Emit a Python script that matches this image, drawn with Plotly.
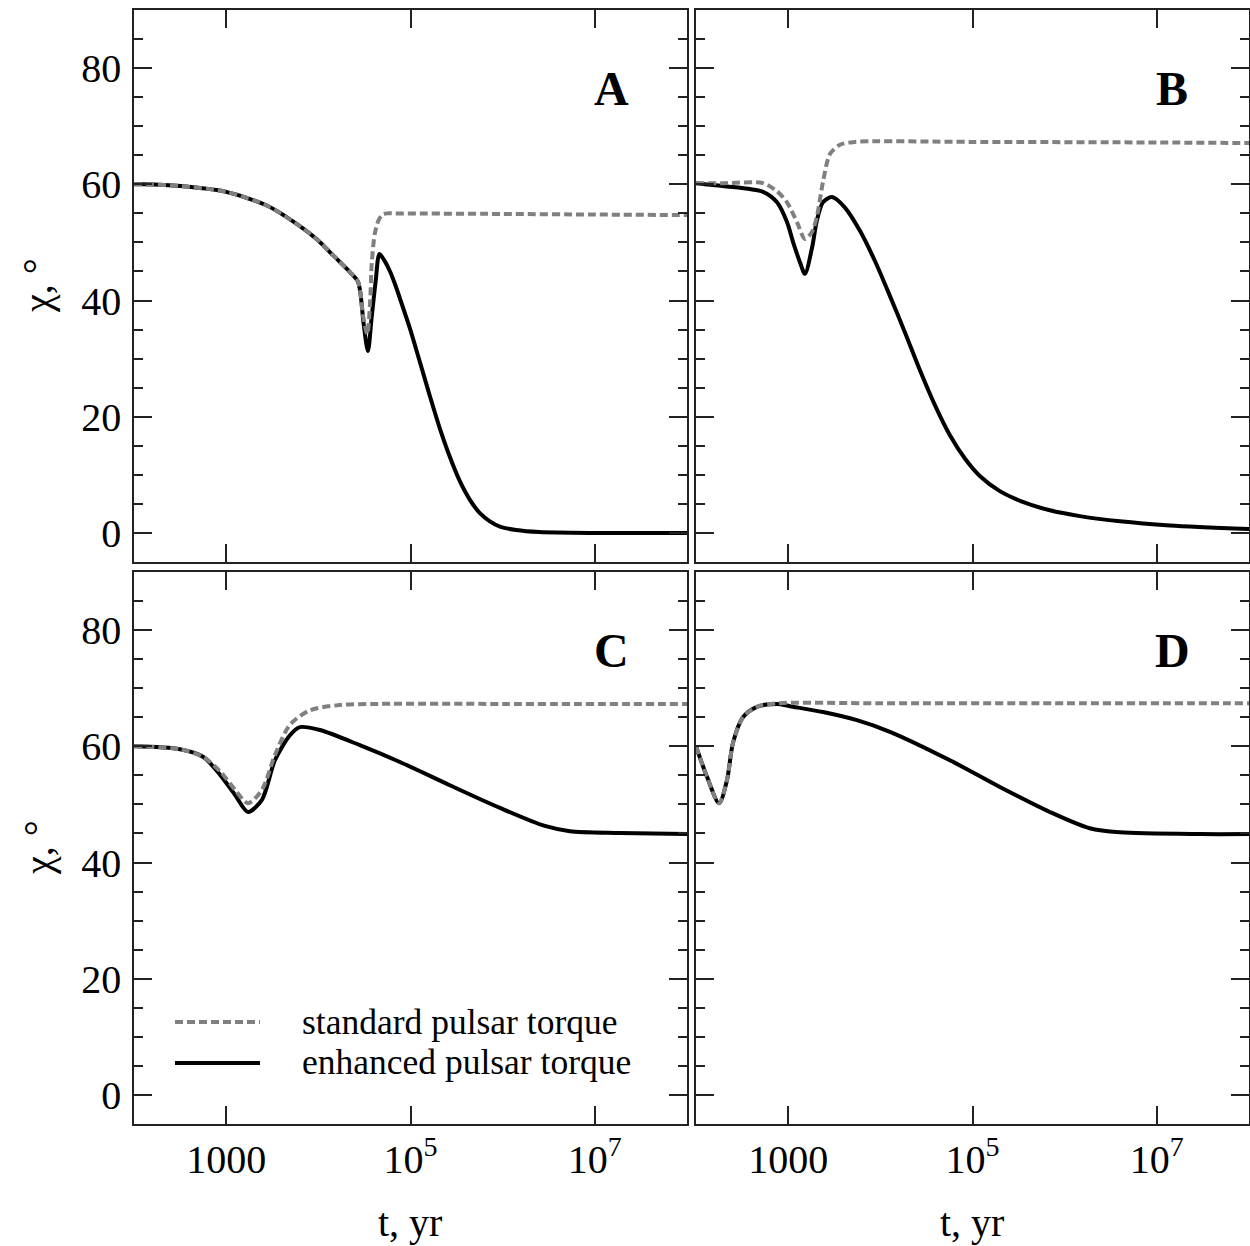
import plotly.graph_objects as go
from plotly.subplots import make_subplots

# ---------------- data (t in years, chi in degrees) ----------------
# Panel A
tA_std = [100, 125, 320, 1000, 2800, 6300, 9700, 14400, 22000, 27000, 30500, 34000,
          36500, 38000, 41000, 45000, 50000, 56000, 62000, 1e6, 1e7, 1e8]
chiA_std = [60.0, 60.0, 59.7, 58.7, 56.3, 52.8, 50.5, 47.8, 44.9, 43.2, 37.5, 34.2,
            40.0, 46.5, 51.5, 53.8, 54.8, 55.0, 55.0, 54.9, 54.8, 54.7]
tA_enh = [100, 125, 320, 1000, 2800, 6300, 9700, 14400, 22000, 27000, 31000, 34500,
          38000, 42000, 46000, 52000, 60000, 68000, 77000, 98500, 126000, 162000, 208000,
          267000, 343000, 441000, 566000, 726000, 933000, 1.4e6, 2.5e6, 1e7, 1e8]
chiA_enh = [60.0, 60.0, 59.7, 58.7, 56.3, 52.8, 50.5, 47.8, 44.9, 43.2, 36.0, 31.3,
            37.3, 43.5, 48.0, 46.9, 45.0, 42.8, 40.3, 35.2, 29.5, 23.6, 18.0,
            13.1, 8.9, 5.7, 3.4, 2.0, 1.1, 0.5, 0.15, 0.0, 0.0]

# Panel B
tB_std = [100, 200, 530, 757, 971, 1246, 1521, 1811, 2052, 2385, 2840, 3645, 5300,
          1e5, 1e7, 1e8]
chiB_std = [60.2, 60.2, 60.2, 58.8, 56.9, 53.5, 50.6, 51.8, 54.5, 60.4, 65.2, 66.8, 67.3,
            67.3, 67.2, 67.1]
tB_enh = [100, 196, 533, 757, 971, 1128, 1342, 1521, 1811, 2052, 2385, 2985, 4130,
          6010, 8740, 12700, 18500, 26900, 39100, 56900, 82700, 120000, 198000, 370000,
          690000, 1.46e6, 3.97e6, 1.38e7, 1e8]
chiB_enh = [60.2, 59.7, 58.7, 56.9, 53.5, 50.1, 46.6, 44.6, 49.0, 53.8, 56.9, 57.8, 56.0,
            52.0, 46.8, 40.8, 34.5, 28.0, 22.0, 16.8, 12.8, 9.8, 7.2, 5.2,
            3.9, 2.9, 2.0, 1.3, 0.7]

# Panel C
tC_std = [100, 315, 560, 870, 1250, 1722, 2443, 3380, 4918, 8110, 17100, 46500, 1e6, 1e8]
chiC_std = [60.0, 59.5, 58.2, 55.6, 52.5, 50.2, 52.5, 58.5, 63.7, 66.2, 67.1, 67.3, 67.3, 67.3]
tC_enh = [100, 315, 560, 870, 1250, 1722, 2443, 3380, 4918, 6310, 10400, 28200, 76800,
          267000, 933000, 2.87e6, 5.36e6, 1.87e7, 1e8]
chiC_enh = [60.0, 59.5, 58.2, 55.0, 51.6, 48.7, 50.8, 57.6, 61.9, 63.3, 62.8, 60.2, 57.3,
            53.3, 49.4, 46.3, 45.4, 45.1, 44.9]

# Panel D
tD_std = [100, 132, 178, 217, 252, 323, 459, 757, 1e4, 1e6, 1e8]
chiD_std = [60.0, 54.7, 50.2, 54.2, 60.6, 65.0, 66.8, 67.4, 67.4, 67.4, 67.4]
tD_enh = [100, 132, 178, 217, 252, 323, 459, 757, 1047, 2385, 5570, 12700, 56900,
          198000, 690000, 1.87e6, 3.97e6, 2.92e7, 1e8]
chiD_enh = [60.0, 54.7, 50.2, 54.2, 60.6, 65.0, 66.8, 67.3, 66.9, 65.9, 64.5, 62.5, 57.6,
            53.0, 48.7, 45.9, 45.2, 44.9, 44.9]

panel_labels = ["A", "B", "C", "D"]
series_names = ["standard pulsar torque", "enhanced pulsar torque"]
y_tickvals = [0, 20, 40, 60, 80]
x_tickvals = [1e3, 1e5, 1e7]
x_ticktext = ["1000", "10<sup>5</sup>", "10<sup>7</sup>"]
x_title = "t, yr"
y_title = "χ, °"

# ---------------- figure ----------------
FONT = "Liberation Serif"
GRAY = "#808080"
DASH = "8px,4px"
LW = 4

fig = make_subplots(rows=2, cols=2)

panels = [
    (1, 1, tA_std, chiA_std, tA_enh, chiA_enh),
    (1, 2, tB_std, chiB_std, tB_enh, chiB_enh),
    (2, 1, tC_std, chiC_std, tC_enh, chiC_enh),
    (2, 2, tD_std, chiD_std, tD_enh, chiD_enh),
]
for r, c, ts, cs, te, ce in panels:
    fig.add_trace(go.Scatter(x=te, y=ce, mode="lines", name=series_names[1],
                             line=dict(color="black", width=LW, shape="spline", smoothing=0.8),
                             showlegend=False), row=r, col=c)
    fig.add_trace(go.Scatter(x=ts, y=cs, mode="lines", name=series_names[0],
                             line=dict(color=GRAY, width=LW, dash=DASH, shape="spline", smoothing=0.8),
                             showlegend=False), row=r, col=c)

W, H = 1250, 1246
xdom_L = [134 / W, 687 / W]
xdom_R = [696 / W, 1249 / W]
ydom_T = [(H - 562) / H, (H - 10) / H]
ydom_B = [(H - 1124) / H, (H - 572) / H]

axis_common = dict(showline=True, linecolor="#222", linewidth=1.5, mirror="ticks",
                   ticks="inside", tickcolor="#222", tickwidth=1.5, showgrid=False,
                   zeroline=False, tickfont=dict(family=FONT, size=40, color="black"))

for i, (xd, yd) in enumerate([(xdom_L, ydom_T), (xdom_R, ydom_T), (xdom_L, ydom_B), (xdom_R, ydom_B)]):
    sfx = "" if i == 0 else str(i + 1)
    fig.layout["xaxis" + sfx].update(
        domain=xd, type="log", range=[2, 8], tickvals=x_tickvals, ticktext=x_ticktext,
        ticklen=18, showticklabels=(i >= 2), ticklabelstandoff=-1, **axis_common)
    fig.layout["yaxis" + sfx].update(
        domain=yd, range=[-5, 90], tickvals=y_tickvals, ticklen=18,
        minor=dict(dtick=5, tick0=0, ticks="inside", ticklen=9, tickcolor="#222", tickwidth=1.5),
        showticklabels=(i % 2 == 0), ticklabelstandoff=3, **axis_common)

annotations = []
# panel letters
for lab, (px, py) in zip(panel_labels, [(611, 88), (1172, 88), (611, 650), (1172, 650)]):
    annotations.append(dict(text="<b>%s</b>" % lab, x=px / W, y=1 - py / H, xref="paper", yref="paper",
                            showarrow=False, xanchor="center", yanchor="middle",
                            font=dict(family=FONT, size=48, color="black")))
# y titles
for py in (286, 848):
    annotations.append(dict(text=y_title, x=38 / W, y=1 - py / H, xref="paper", yref="paper",
                            showarrow=False, textangle=-90, xanchor="center", yanchor="middle",
                            font=dict(family=FONT, size=40, color="black")))
# x titles
for px in (410, 972):
    annotations.append(dict(text=x_title, x=px / W, y=1 - 1222 / H, xref="paper", yref="paper",
                            showarrow=False, xanchor="center", yanchor="middle",
                            font=dict(family=FONT, size=40, color="black")))
# legend
for name, py in zip(series_names, (1022, 1062)):
    annotations.append(dict(text=name, x=300 / W, y=1 - py / H, xref="paper", yref="paper",
                            showarrow=False, xanchor="left", yanchor="middle",
                            font=dict(family=FONT, size=35.5, color="black")))

shapes = [
    dict(type="line", xref="paper", yref="paper", x0=175 / W, x1=260 / W,
         y0=1 - 1022 / H, y1=1 - 1022 / H, line=dict(color=GRAY, width=LW, dash=DASH)),
    dict(type="line", xref="paper", yref="paper", x0=175 / W, x1=260 / W,
         y0=1 - 1063 / H, y1=1 - 1063 / H, line=dict(color="black", width=LW)),
]

fig.update_layout(width=W, height=H, margin=dict(l=0, r=0, t=0, b=0, autoexpand=False),
                  paper_bgcolor="white", plot_bgcolor="white",
                  annotations=annotations, shapes=shapes, showlegend=False,
                  font=dict(family=FONT, color="black"))

fig.write_html("out.html")
